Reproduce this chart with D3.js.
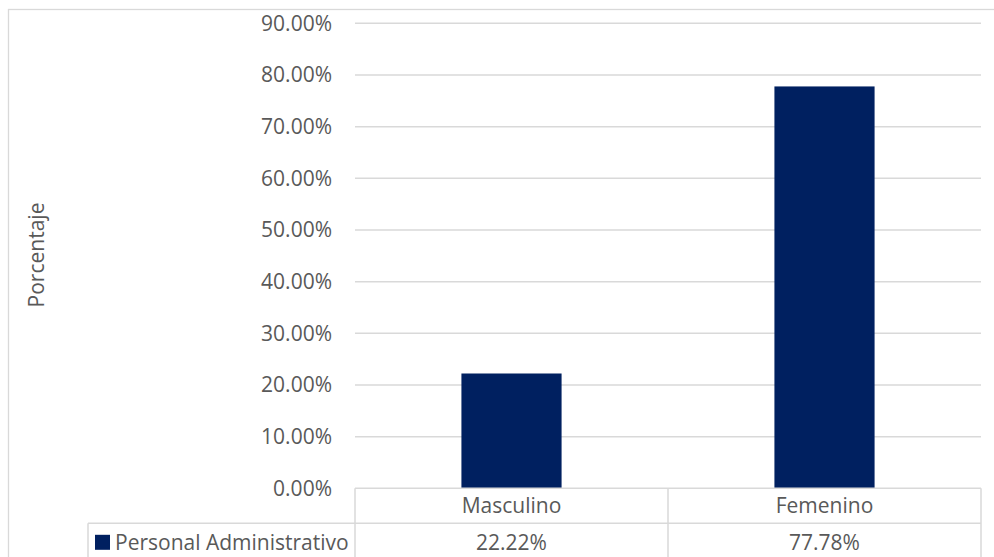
<!DOCTYPE html>
<html>
<head>
<meta charset="utf-8">
<script src="https://cdn.jsdelivr.net/npm/d3@7"></script>
<style>
  html, body { margin: 0; padding: 0; background: #fff; }
  svg { display: block; }
  text { font-family: "Open Sans", sans-serif; fill: #595959; }
</style>
</head>
<body>
<script>
const categories = ["Masculino", "Femenino"];
const seriesName = "Personal Administrativo";
const values = [0.2222, 0.7778];
const tickValues = [0, 0.1, 0.2, 0.3, 0.4, 0.5, 0.6, 0.7, 0.8, 0.9];

const W = 994, H = 557;
const plotLeft = 355, plotRight = 981, plotTop = 23.3, plotBottom = 488.3;
const rowH = 35;
const fs = 21;
const gridColor = "#d9d9d9";
const barColor = "#002060";

const svg = d3.select("body").append("svg").attr("width", W).attr("height", H);

// outer chart border
svg.append("rect").attr("x", 8.5).attr("y", 9.5).attr("width", 1000).attr("height", 600)
  .attr("fill", "none").attr("stroke", gridColor).attr("stroke-width", 1.3);

const x = d3.scaleBand().domain(categories).range([plotLeft, plotRight]).padding(0);
const y = d3.scaleLinear().domain([0, 0.9]).range([plotBottom, plotTop]);

// gridlines
svg.append("g").selectAll("line").data(tickValues.filter(d => d > 0)).join("line")
  .attr("x1", plotLeft).attr("x2", plotRight)
  .attr("y1", d => y(d)).attr("y2", d => y(d))
  .attr("stroke", gridColor).attr("stroke-width", 1.5);

// y axis labels via d3 axis
const yAxis = d3.axisLeft(y).tickValues(tickValues).tickFormat(d3.format(".2%")).tickSize(0).tickPadding(0);
const gy = svg.append("g").attr("transform", "translate(332,0)").call(yAxis);
gy.select(".domain").remove();
gy.selectAll("text").attr("font-size", fs).attr("font-family", "'Open Sans', sans-serif").attr("fill", "#595959");

// bars
const barW = x.bandwidth() * 0.32;
svg.append("g").selectAll("rect").data(categories).join("rect")
  .attr("x", d => x(d) + x.bandwidth() / 2 - barW / 2)
  .attr("width", barW)
  .attr("y", (d, i) => y(values[i]))
  .attr("height", (d, i) => y(0) - y(values[i]))
  .attr("fill", barColor);

// y axis title
svg.append("text")
  .attr("transform", "translate(44,255) rotate(-90)")
  .attr("text-anchor", "middle")
  .attr("font-size", fs)
  .text("Porcentaje");

// data table
const tbl = svg.append("g").attr("stroke", gridColor).attr("stroke-width", 1.5).attr("fill", "none");
const tableLeft = 88;
tbl.append("line").attr("x1", plotLeft).attr("x2", plotRight).attr("y1", plotBottom).attr("y2", plotBottom);
tbl.append("line").attr("x1", tableLeft).attr("x2", plotRight).attr("y1", plotBottom + rowH).attr("y2", plotBottom + rowH);
const vx = [plotLeft, ...categories.map(c => x(c) + x.bandwidth())];
tbl.selectAll("line.v").data(vx).join("line").attr("class", "v")
  .attr("x1", d => d).attr("x2", d => d).attr("y1", plotBottom).attr("y2", H + 10);
tbl.append("line").attr("x1", tableLeft).attr("x2", tableLeft).attr("y1", plotBottom + rowH).attr("y2", H + 10);

// header labels
svg.append("g").selectAll("text").data(categories).join("text")
  .attr("x", d => x(d) + x.bandwidth() / 2)
  .attr("y", plotBottom + rowH / 2)
  .attr("dy", "0.35em")
  .attr("text-anchor", "middle")
  .attr("font-size", fs)
  .text(d => d);

// values
svg.append("g").selectAll("text").data(values).join("text")
  .attr("x", (d, i) => x(categories[i]) + x.bandwidth() / 2)
  .attr("y", plotBottom + rowH + 19)
  .attr("dy", "0.35em")
  .attr("text-anchor", "middle")
  .attr("font-size", fs)
  .text(d => d3.format(".2%")(d));

// legend key in table
svg.append("rect").attr("x", 95).attr("y", plotBottom + rowH + 11.5).attr("width", 15).attr("height", 15).attr("fill", barColor);
svg.append("text").attr("x", 115).attr("y", plotBottom + rowH + 19).attr("dy", "0.35em")
  .attr("font-size", fs).text(seriesName);
</script>
</body>
</html>
